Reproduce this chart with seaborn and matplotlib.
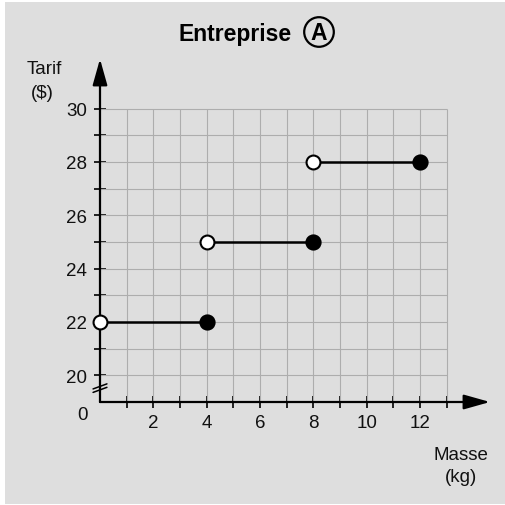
""" Step-function tariff chart for Entreprise A """
import numpy as np
import pandas as pd
import matplotlib
matplotlib.use("Agg")
import matplotlib.pyplot as plt
from matplotlib.patches import Rectangle, Circle
import seaborn as sns

""" Chart data """
seg_start = [0, 4, 8]
seg_end = [4, 8, 12]
tarif = [22, 25, 28]
x_major = [2, 4, 6, 8, 10, 12]
x_minor = [1, 3, 5, 7, 9, 11, 13]
y_major = [20, 22, 24, 26, 28, 30]
y_minor = [21, 23, 25, 27, 29]
title = "Entreprise"
circled = "A"
y_label = ["Tarif", "($)"]
x_label = ["Masse", "(kg)"]

sns.set_theme(style="white")
plt.rcParams["font.family"] = ["Liberation Sans", "DejaVu Sans"]

W, H = 505, 506
PX = 26.67  # pixels per data unit
fig = plt.figure(figsize=(W / 100, H / 100), dpi=100, facecolor="white")
fig.patches.append(Rectangle((5 / W, 1 / H), 1 - 5 / W, 502 / H, transform=fig.transFigure,
                             facecolor="#dedede", edgecolor="none", zorder=-10))

""" Axes placed so that x=0 sits at px 100 and y=19 (broken origin) at px 403 """
x0, y0 = 100, 403
x_hi = (490 - x0) / PX
y_hi = 19 + (y0 - 60) / PX
ax = fig.add_axes([x0 / W, (H - y0) / H, (490 - x0) / W, (y0 - 60) / H])
ax.set_facecolor("none")
ax.set_xlim(0, x_hi)
ax.set_ylim(19, y_hi)
for s in ax.spines.values():
    s.set_visible(False)

""" Grid """
grid_kw = dict(color="#adadad", lw=0.8, zorder=1)
ax.vlines(list(range(1, 14)), 19, 30, **grid_kw)
ax.hlines(list(range(20, 31)), 0, 13, **grid_kw)

""" Axes with arrow heads """
arrow = dict(arrowstyle="-|>,head_length=1.6,head_width=0.45", lw=1.6,
             color="black", mutation_scale=10, shrinkA=0, shrinkB=0)
ax.annotate("", xy=(0, y_hi), xytext=(0, 19), arrowprops=arrow, annotation_clip=False)
ax.annotate("", xy=(x_hi, 19), xytext=(0, 19), arrowprops=arrow, annotation_clip=False)

""" Ticks """
ax.set_xticks(x_major)
ax.set_xticks(x_minor, minor=True)
ax.set_yticks(y_major)
ax.set_yticks(y_minor, minor=True)
ax.tick_params(which="both", direction="inout", length=9, width=1.2, color="black",
               left=True, bottom=True, labelsize=13.5, labelcolor="#111111")
ax.tick_params(axis="x", pad=4)
ax.tick_params(axis="y", pad=5)

""" Axis break marks """
for dy in (0.0, 0.13):
    ax.plot([-0.26, 0.26], [19.36 + dy, 19.55 + dy], color="black", lw=1.1,
            clip_on=False, zorder=4)

""" Segments and end points """
segs = pd.DataFrame({
    "masse": np.ravel(np.column_stack([seg_start, seg_end])),
    "tarif": np.repeat(tarif, 2),
    "seg": np.repeat(range(len(tarif)), 2),
})
sns.lineplot(data=segs, x="masse", y="tarif", units="seg", estimator=None,
             color="black", lw=1.8, ax=ax, zorder=5)
sns.scatterplot(x=seg_end, y=tarif, color="black", s=110, edgecolor="black",
                linewidth=1.2, ax=ax, zorder=6, clip_on=False)
sns.scatterplot(x=seg_start, y=tarif, color="white", s=100, edgecolor="black",
                linewidth=1.5, ax=ax, zorder=6, clip_on=False)
ax.set(xlabel=None, ylabel=None)

""" Text labels (pixel positions) """
def px(x, y):
    return x / W, 1 - y / H

txt = dict(fontsize=13.5, color="#111111", ha="center", va="center")
fig.text(*px(44, 69), y_label[0], **txt)
fig.text(*px(42, 94), y_label[1], **txt)
fig.text(*px(461, 456), x_label[0], **txt)
fig.text(*px(461, 478), x_label[1], **txt)
fig.text(*px(82, 415), "0", **txt)

fig.text(*px(292, 34), title, fontsize=16.5, fontweight="bold", color="black",
         ha="right", va="center")
fig.text(*px(319, 34), circled, fontsize=16.5, fontweight="bold", color="black",
         ha="center", va="center")
fig.patches.append(Circle((319 / 100, (H - 33) / 100), 0.148, transform=fig.dpi_scale_trans,
                          facecolor="none", edgecolor="black", lw=1.6))

fig.savefig("out.png", dpi=100, facecolor=fig.get_facecolor())
